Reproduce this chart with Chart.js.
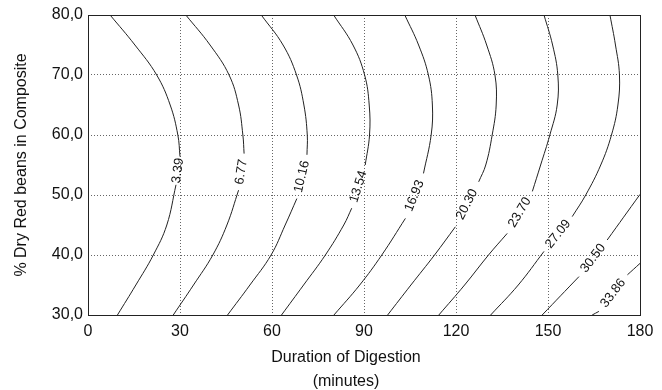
<!DOCTYPE html>
<html>
<head>
<meta charset="utf-8">
<script src="https://cdn.jsdelivr.net/npm/chart.js@4.4.0/dist/chart.umd.min.js"></script>
<style>
    html, body { margin: 0; padding: 0; background: #fff; }
    #wrap { width: 662px; height: 390px; }
</style>
</head>
<body>
<div id="wrap"><canvas id="contourChart"></canvas></div>
<script>
// contour levels, each curve read from top (80%) to bottom (30%) as [minutes, %]
// null = gap in the curve where its label sits
const levels = ['3.39', '6.77', '10.16', '13.54', '16.93', '20.30', '23.70', '27.09', '30.50', '33.86'];

const c339  = [[7.2,80],[15.3,75],[22.4,70],[26.8,65],[29.3,60],[30.0,56.4],null,[28.7,51.7],[25.7,45],[21.3,40],[15.6,35],[9.6,30]];
const c677  = [[31.9,80],[39.8,75],[46.0,70],[49.1,65],[50.5,60],[50.9,56.9],null,[49.1,50.8],[45.3,45],[40.7,40],[34.4,35],[27.8,30]];
const c1016 = [[56.5,80],[63.6,75],[68.0,70],[70.4,65],[71.5,60],[71.4,56.7],null,[68.1,49.4],[64.3,45],[59.7,40],[52.8,35],[45.5,30]];
const c1354 = [[80.1,80],[86.4,75],[90.2,70],[91.7,65],[91.8,60],[90.4,55],null,[86.0,47.8],[83.4,45],[77.4,40],[70.3,35],[63.1,30]];
const c1693 = [[103.3,80],[107.8,75],[111.0,70],[112.3,65],[111.9,60],[109.4,53.6],null,[103.5,46.1],[95.8,40],[88.6,35],[80.2,30]];
const c2030 = [[126.2,80],[130.0,75],[132.7,70],[133.1,65],[131.8,60],[129.7,55],[127.4,52.2],null,[119.8,44.7],[113.0,40],[105.3,35],[97.7,30]];
const c2370 = [[148.7,80],[151.5,75],[153.2,70],[153.0,65],[150.6,60],[147.6,55],[144.9,50.6],null,[136.7,43.6],[130.6,40],[122.8,35],[114.4,30]];
const c2709 = [[170.2,80],[172.0,75],[173.3,70],[172.8,65],[170.7,60],[167.2,55],[162.3,50],[157.9,46.4],null,[148.7,40.6],[140.3,35],[131.3,30]];
const c3050 = [[180,50.1],[169.3,42.5],null,[160.1,36.4],[148.1,30]];
const c3386 = [[180,38.6],[175.9,36.7],null,[166.6,30.6],[164.4,30]];

const contours = [c339, c677, c1016, c1354, c1693, c2030, c2370, c2709, c3050, c3386];

const xTicks = [0, 30, 60, 90, 120, 150, 180];
const yTicks = [30, 40, 50, 60, 70, 80];
const xTitle = ['Duration of Digestion', '(minutes)'];
const yTitle = '% Dry Red beans in Composite';

const FONT = '"Liberation Sans", Arial, sans-serif';

// contour labels in the gaps, outer frame and the x axis title
const contourLabels = {
    id: 'contourLabels',
    afterDatasetsDraw(chart) {
        const ctx = chart.ctx;
        const xs = chart.scales.x, ys = chart.scales.y;
        ctx.save();
        ctx.font = '13px ' + FONT;
        ctx.fillStyle = '#111';
        ctx.textAlign = 'center';
        ctx.textBaseline = 'middle';
        contours.forEach(function (pts, i) {
            const g = pts.indexOf(null);
            const a = pts[g - 1], b = pts[g + 1];
            const ax = xs.getPixelForValue(a[0]), ay = ys.getPixelForValue(a[1]);
            const bx = xs.getPixelForValue(b[0]), by = ys.getPixelForValue(b[1]);
            ctx.save();
            ctx.translate((ax + bx) / 2, (ay + by) / 2);
            ctx.rotate(Math.atan2(ay - by, ax - bx));
            ctx.fillText(levels[i], 0, 0);
            ctx.restore();
        });
        ctx.restore();
    },
    afterDraw(chart) {
        const ctx = chart.ctx, a = chart.chartArea;
        ctx.save();
        ctx.strokeStyle = '#222';
        ctx.lineWidth = 1;
        ctx.strokeRect(Math.round(a.left) + 0.5, Math.round(a.top) + 0.5,
            Math.round(a.right - a.left), Math.round(a.bottom - a.top));

        // x title sits a bit left of the plot centre in the original
        ctx.font = '16px ' + FONT;
        ctx.fillStyle = '#111';
        ctx.textAlign = 'center';
        ctx.textBaseline = 'middle';
        const cx = (a.left + a.right) / 2 - 18;
        ctx.fillText(xTitle[0], cx, a.bottom + 43);
        ctx.fillText(xTitle[1], cx, a.bottom + 67);
        ctx.restore();
    }
};

const datasets = contours.map(function (pts, i) {
    return {
        label: levels[i],
        data: pts.map(p => p ? {x: p[0], y: p[1]} : {x: null, y: null}),
        showLine: true,
        spanGaps: false,
        borderColor: '#222',
        borderWidth: 1,
        pointRadius: 0,
        tension: 0.4
    };
});

new Chart(document.getElementById('contourChart'), {
    type: 'scatter',
    data: { datasets: datasets },
    plugins: [contourLabels],
    options: {
        responsive: true,
        maintainAspectRatio: false,
        animation: false,
        devicePixelRatio: 1,
        layout: { padding: { top: 15, right: 22, left: 0, bottom: 0 } },
        plugins: { legend: { display: false }, tooltip: { enabled: false } },
        scales: {
            x: {
                type: 'linear', min: 0, max: 180,
                afterBuildTicks: s => { s.ticks = xTicks.map(v => ({ value: v })); },
                afterFit: s => { s.height = 75; },
                grid: { color: '#666', drawTicks: false },
                border: { display: false, dash: [1, 2] },
                ticks: { color: '#111', padding: 7, font: { family: FONT, size: 16 } }
            },
            y: {
                type: 'linear', min: 30, max: 80,
                afterBuildTicks: s => { s.ticks = yTicks.map(v => ({ value: v })); },
                afterFit: s => { s.width = 88; },
                grid: { color: '#666', drawTicks: false },
                border: { display: false, dash: [1, 2] },
                ticks: {
                    color: '#111', padding: 5, font: { family: FONT, size: 16 },
                    callback: v => v.toFixed(1).replace('.', ',')
                },
                title: {
                    display: true,
                    text: yTitle,
                    color: '#111',
                    font: { family: FONT, size: 16, lineHeight: 1.2 },
                    padding: { top: 12, bottom: 0 }
                }
            }
        }
    }
});
</script>
</body>
</html>
